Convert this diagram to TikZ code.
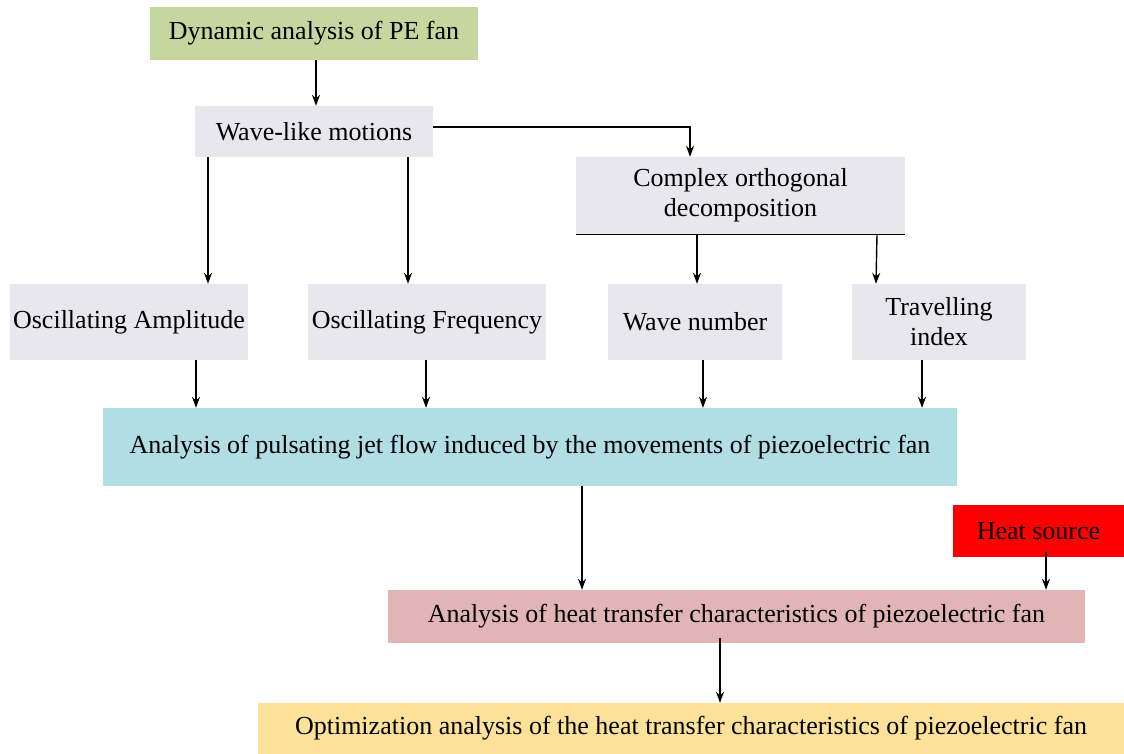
\documentclass[tikz,border=0pt]{standalone}
\usepackage{fontspec}
\IfFontExistsTF{LiberationSerif-Regular.ttf}{\setmainfont{LiberationSerif}[Extension=.ttf,UprightFont=*-Regular,BoldFont=*-Bold,ItalicFont=*-Italic,BoldItalicFont=*-BoldItalic]}{\setmainfont{Liberation Serif}}
\usetikzlibrary{arrows.meta}
\definecolor{cgreen}{RGB}{197,215,158}
\definecolor{clav}{RGB}{233,231,238}
\definecolor{cblue}{RGB}{177,221,229}
\definecolor{cred}{RGB}{255,0,0}
\definecolor{cpink}{RGB}{225,181,181}
\definecolor{cyel}{RGB}{252,226,152}
\tikzset{
  box/.style={rectangle, inner sep=0pt, align=center, font=\rmfamily\fontsize{26}{30}\selectfont, text=black},
  arr/.style={draw=black, line width=1.4pt, -{Stealth[length=11pt,width=8pt]}},
}
\begin{document}
\begin{tikzpicture}[x=1pt,y=-1pt]
\useasboundingbox (0,0) rectangle (1124,754);
\node[box, fill=cgreen, minimum width=328pt, minimum height=53pt] (dyn) at (314,33.5) {Dynamic analysis of PE fan};
\node[box, fill=clav, minimum width=238pt, minimum height=51pt] (wave) at (314,131.5) {Wave-like motions};
\node[box, fill=clav, minimum width=329pt, minimum height=77pt] (cod) at (740.5,195.5) {Complex orthogonal\\decomposition};
\draw[line width=1.2pt] (cod.south west) -- (cod.south east);
\node[box, fill=clav, minimum width=238pt, minimum height=76pt] (amp) at (129,322) {Oscillating Amplitude};
\node[box, fill=clav, minimum width=238pt, minimum height=76pt] (freq) at (427,322) {Oscillating Frequency};
\node[box, fill=clav, minimum width=174pt, minimum height=76pt] (wnum) at (695,322) {Wave number};
\node[box, fill=clav, minimum width=174pt, minimum height=76pt] (trav) at (939,322) {Travelling\\index};
\node[box, fill=cblue, minimum width=854pt, minimum height=78pt] (puls) at (530,447) {Analysis of pulsating jet flow induced by the movements of piezoelectric fan};
\node[box, fill=cred, minimum width=171pt, minimum height=52pt] (heat) at (1038.5,531) {Heat source};
\node[box, fill=cpink, minimum width=697pt, minimum height=53pt] (htc) at (736.5,616.5) {Analysis of heat transfer characteristics of piezoelectric fan};
\node[box, fill=cyel, minimum width=866pt, minimum height=51pt] (opt) at (691,728.5) {Optimization analysis of the heat transfer characteristics of piezoelectric fan};

\draw[arr] ([xshift=2pt]dyn.south) -- ([xshift=2pt]wave.north);
\draw[arr] ([yshift=4.5pt]wave.east) -| ([xshift=-50.5pt]cod.north);
\draw[arr] ([xshift=-106pt]wave.south) -- ([xshift=79pt]amp.north);
\draw[arr] ([xshift=94pt]wave.south) -- ([xshift=-19pt]freq.north);
\draw[arr] ([xshift=-43.5pt]cod.south) -- ([xshift=2pt]wnum.north);
\draw[arr] ([xshift=136.5pt]cod.south) -- ([xshift=-63pt]trav.north);
\draw[arr] ([xshift=67pt]amp.south) -- ([xshift=-334pt]puls.north);
\draw[arr] ([xshift=-1pt]freq.south) -- ([xshift=-104pt]puls.north);
\draw[arr] ([xshift=8pt]wnum.south) -- ([xshift=173pt]puls.north);
\draw[arr] ([xshift=-17pt]trav.south) -- ([xshift=392pt]puls.north);
\draw[arr] ([xshift=52pt]puls.south) -- ([xshift=-154.5pt]htc.north);
\draw[arr] ([xshift=7.5pt,yshift=5pt]heat.south) -- ([xshift=309.5pt]htc.north);
\draw[arr] ([xshift=-16.5pt,yshift=5pt]htc.south) -- ([xshift=29pt]opt.north);
\end{tikzpicture}
\end{document}
